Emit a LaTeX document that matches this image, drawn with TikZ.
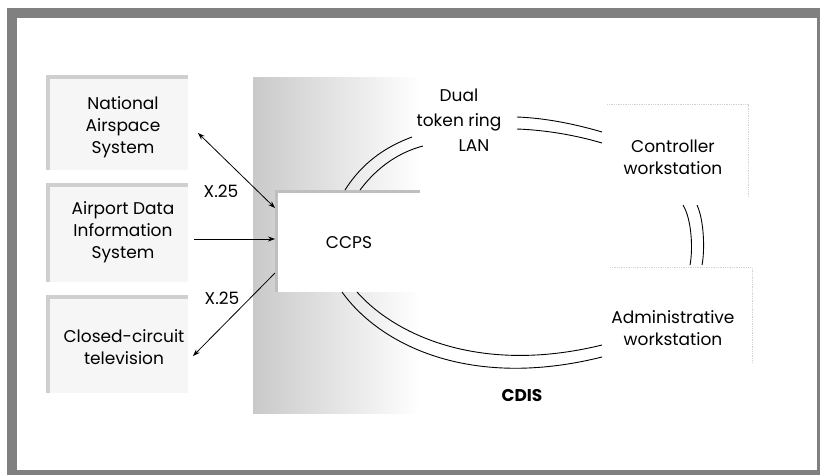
\documentclass[tikz,border=0pt]{standalone}
\usepackage{fontspec}
\setmainfont{Poppins}
\usetikzlibrary{arrows.meta}
\begin{document}
\begin{tikzpicture}[x=1pt,y=-1pt,
  lbl/.style={font=\fontsize{17}{22}\selectfont, align=center, inner sep=0pt},
  conn/.style={line width=0.8pt, black},
  tipend/.style={-{Stealth[length=7pt,width=5pt]}},
  tipboth/.style={{Stealth[length=7pt,width=5pt]}-{Stealth[length=7pt,width=5pt]}},
  ring/.style={line width=0.9pt, black},
  srcbox/.style={fill=gray!7, draw=none, inner sep=0pt, minimum width=140pt},
  boxshadow/.style={gray!38, line width=4pt},
  wsedge/.style={gray!35, densely dotted, line width=1.3pt}]
\useasboundingbox (0,0) rectangle (820,475);
\fill[white] (0,0) rectangle (820,475);
% outer frame
\fill[black!50] (7,8) rectangle (820,475);
\fill[white] (17,18) rectangle (817,470);

% central shaded field behind CCPS
\shade[left color=gray!42, right color=white] (253,77) rectangle (420,413);

% left source boxes
\node[srcbox, minimum height=93pt] (nasbox) at (118,123.5) {};
\node[srcbox, minimum height=97pt] (adisbox) at (118,233.5) {};
\node[srcbox, minimum height=96pt] (cctvbox) at (118,345) {};
\foreach \b in {nasbox,adisbox,cctvbox}{
  \draw[boxshadow] (\b.south west) -- (\b.north west) -- (\b.north east);
}
\node[lbl] (nas) at (123,127.5) {National\\Airspace\\System};
\node[lbl] (adis) at (123,232.5) {Airport Data\\Information\\System};
\node[lbl] (cctv) at (124,347.5) {Closed-circuit\\television};

% CCPS box
\node[fill=white, inner sep=0pt, minimum width=142pt, minimum height=99pt,
      font=\fontsize{17}{22}\selectfont] (ccps) at (349,242.5) {CCPS};
\draw[gray!50, line width=3pt] (276.5,292) -- (276.5,191.5) -- (420,191.5);

% workstation boxes
\node[fill=white, inner sep=0pt, minimum width=141pt, minimum height=92pt] (ctrlbox) at (677.5,151) {};
\node[fill=white, inner sep=0pt, minimum width=142pt, minimum height=95pt] (admbox) at (681,315.5) {};
\draw[wsedge] (ctrlbox.north west) -- (ctrlbox.north east) -- (ctrlbox.south east);
\draw[wsedge] (admbox.north west) -- (admbox.north east) -- (admbox.south east);
\node[lbl] (ctrl) at (673,157) {Controller\\workstation};
\node[lbl] (adm) at (673,328.5) {Administrative\\workstation};

% ring label
\node[lbl, font=\fontsize{17}{25}\selectfont] (lan) at (459,120) {Dual\\token ring\\\hspace*{30pt}LAN};
\node[inner sep=0pt, font=\fontsize{17}{22}\selectfont\bfseries] (cdis) at (522,395) {CDIS};

% connectors to CCPS
\coordinate (nasEnd) at (198,133);
\coordinate (ccpsA) at (275,208);
\coordinate (adisEnd) at (194,239);
\coordinate (ccpsB) at (275,239);
\coordinate (ccpsC) at (275,273);
\coordinate (cctvEnd) at (193,356);
\draw[conn, tipboth] (nasEnd) -- (ccpsA);
\draw[conn, tipend] (adisEnd) -- (ccpsB);
\draw[conn, tipend] (ccpsC) -- (cctvEnd);
\node[lbl] (x25a) at (221,191) {X.25};
\node[lbl] (x25b) at (222,298.5) {X.25};

% dual token ring (outer and inner lines)
\coordinate (rAo) at (345,190);  \coordinate (rAi) at (360,190);
\coordinate (lAo) at (412,137);  \coordinate (lAi) at (423,146);
\coordinate (lBo) at (517,117);  \coordinate (lBi) at (517,129);
\coordinate (cBo) at (602,132);  \coordinate (cBi) at (602,143);
\coordinate (cCo) at (697,205);  \coordinate (cCi) at (683,205);
\coordinate (aCo) at (702,265);  \coordinate (aCi) at (690,265);
\coordinate (aDo) at (602,357);  \coordinate (aDi) at (602,345);
\coordinate (rDo) at (342,292);  \coordinate (rDi) at (357,292);
\draw[ring] (rAo) .. controls (362,163) and (385,147) .. (lAo);
\draw[ring] (rAi) .. controls (378,166) and (400,152) .. (lAi);
\draw[ring] (lBo) .. controls (545,118) and (575,124) .. (cBo);
\draw[ring] (lBi) .. controls (545,130) and (575,135) .. (cBi);
\draw[ring] (cCo) .. controls (704,220) and (705,250) .. (aCo);
\draw[ring] (cCi) .. controls (692,220) and (693,250) .. (aCi);
\draw[ring] (rDo) .. controls (380,345) and (470,390) .. (aDo);
\draw[ring] (rDi) .. controls (395,335) and (480,375) .. (aDi);
\end{tikzpicture}
\end{document}
